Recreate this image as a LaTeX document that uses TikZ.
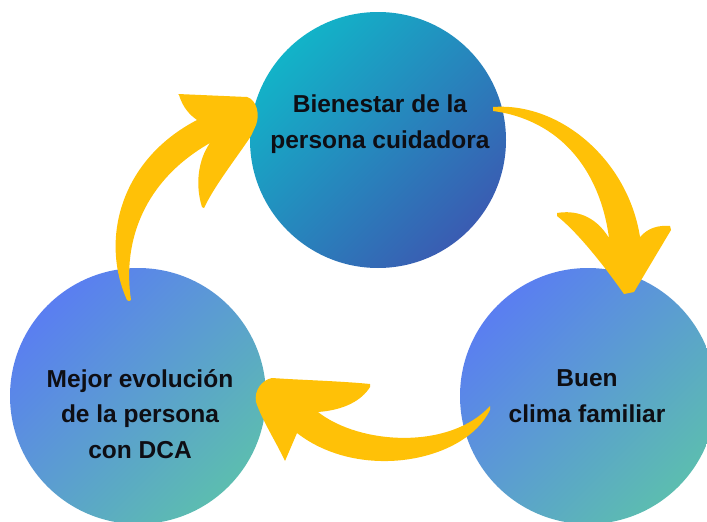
\documentclass[tikz,border=0pt]{standalone}
\usepackage{fontspec}
\setmainfont{Liberation Sans}
\usepackage{tikz}

\definecolor{cyanTop}{HTML}{12B3C8}
\definecolor{blueTop}{HTML}{3A5CB2}
\definecolor{blueBot}{HTML}{5A7EF1}
\definecolor{tealBot}{HTML}{5CBDB0}
\definecolor{arrowYellow}{HTML}{FFC107}
\definecolor{inkText}{HTML}{0E0E14}

\tikzset{
  circ/.style={circle,minimum size=256pt,inner sep=0pt},
  lbl/.style={align=center,text=inkText,font=\bfseries\fontsize{24.5}{35.5}\selectfont},
  arr/.style={fill=arrowYellow,draw=none}
}

\begin{document}
\begin{tikzpicture}[x=1pt,y=-1pt]
\useasboundingbox (0,0) rectangle (707,522);
\clip (0,0) rectangle (707,522);

\begin{scope}[every node/.style={circ}]
    \node (bienestar) at (378,140) {};
    \node (evolucion) at (138,396) {};
    \node (clima) at (588,396) {};
\end{scope}

\shade[shading=axis,top color=cyanTop,bottom color=blueTop,shading angle=45]
    (bienestar.center) circle[radius=128];
\shade[shading=axis,top color=blueBot,bottom color=tealBot,shading angle=45]
    (evolucion.center) circle[radius=128];
\shade[shading=axis,top color=blueBot,bottom color=tealBot,shading angle=45]
    (clima.center) circle[radius=128];

\node[lbl] (t1) at (380,124) {Bienestar de la\\persona cuidadora};
\node[lbl] (t2) at (140,414) {Mejor evolución\\de la persona\\con DCA};
\node[lbl] (t3) at (587,396) {Buen\\clima familiar};

% bienestar -> clima
\fill[arr] (493,107) .. controls (560,102) and (628,160) .. (640,237)
    .. controls (648,228) and (658,225) .. (670,226) -- (671,230)
    -- (634,292) -- (624,294)
    .. controls (600,260) and (575,230) .. (557,216) -- (557,213)
    .. controls (575,210) and (595,215) .. (609,238)
    .. controls (600,170) and (560,120) .. (493,111) -- cycle;

% clima -> evolucion
\fill[arr] (490,406) -- (490,410) .. controls (465,462) and (360,482) .. (297,433)
    -- (285,461)
    .. controls (275,440) and (262,420) .. (256,402)
    .. controls (254,390) and (262,380) .. (272,378)
    .. controls (300,380) and (340,381) .. (370,384) -- (370,387)
    .. controls (362,400) and (345,410) .. (318,412)
    .. controls (360,445) and (450,450) .. (490,406) -- cycle;

% evolucion -> bienestar
\fill[arr] (129,301) -- (127,300) .. controls (100,240) and (120,160) .. (197,120)
    .. controls (190,115) and (183,108) .. (179,95) -- (178,94) -- (247,97)
    .. controls (257,100) and (260,115) .. (256,125) -- (251,136)
    .. controls (235,160) and (215,185) .. (204,208) -- (202,207)
    .. controls (195,185) and (198,160) .. (210,143)
    .. controls (145,180) and (122,240) .. (131,300) -- cycle;

\end{tikzpicture}
\end{document}
